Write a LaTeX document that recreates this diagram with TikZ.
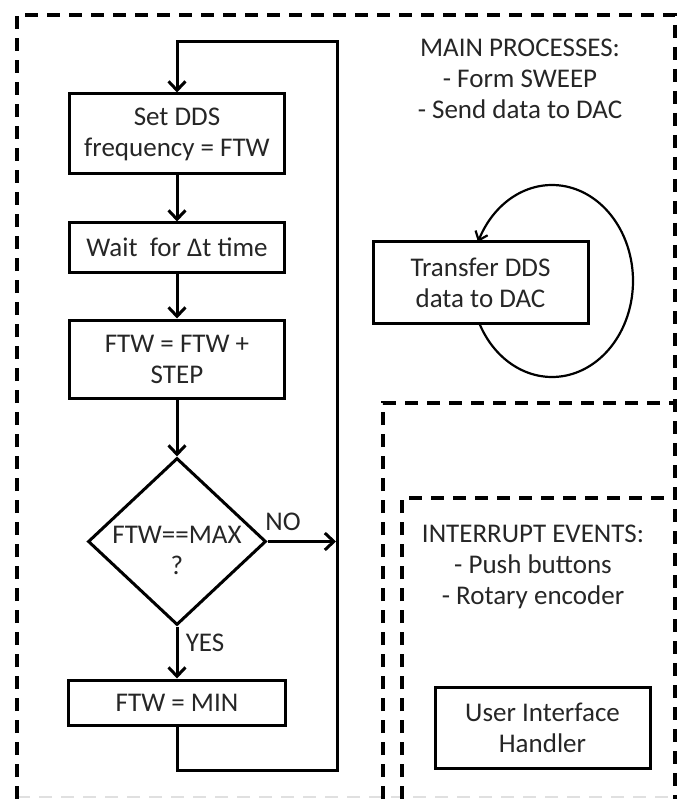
\documentclass[tikz,border=0pt]{standalone}
\usepackage{fontspec}
\setmainfont{Carlito}
\usetikzlibrary{arrows.meta,shapes.geometric}
\begin{document}
\begin{tikzpicture}[x=1pt,y=-1pt,
  txt/.style={font=\fontsize{27}{31}\selectfont, align=center, text=black!85},
  box/.style={txt, draw=black, line width=3pt, minimum width=215pt, inner sep=0pt},
  conn/.style={line width=3pt},
  arr/.style={conn, -{Straight Barb[length=9pt,width=17pt,line width=3pt]}},
  region/.style={line width=3.5pt, dash pattern=on 13pt off 9pt}
]
\useasboundingbox (0,0) rectangle (686,799);
% regions
\draw[region, black!12, line width=2pt] (17,797) -- (675,797);
\draw[region] (17,799) -- (17,15) -- (675,15) -- (675,799);
\draw[region] (383,799) -- (383,403) -- (675,403);
\draw[region] (402,799) -- (402,498) -- (675,498);
% flowchart
\node[box, minimum height=80pt] (b1) at (177,134) {Set DDS\\frequency = FTW};
\node[box, minimum height=49pt] (b2) at (177,247.5) {Wait\ \ for Δt time};
\node[box, minimum height=78pt] (b3) at (177,359) {FTW = FTW +\\STEP};
\node[draw=black, line width=3pt, diamond, minimum width=178pt, minimum height=167pt, inner sep=0pt] (dec) at (177,541.5) {};
\node[txt] (dect) at (177,550) {FTW==MAX\\?};
\node[box, minimum width=217pt, minimum height=45pt] (b4) at (177,702.5) {FTW = MIN};
\coordinate (rb) at (337,770);
\coordinate (lt) at (177,42);
\coordinate (noend) at (336,541.5);
\draw[arr] (b1.south) -- (b2.north);
\draw[arr] (b2.south) -- (b3.north);
\draw[arr] (b3.south) -- (dec.north);
\draw[arr] (dec.south) -- (b4.north);
\draw[arr] (dec.east) -- (noend);
\draw[arr] (b4.south) |- (rb) |- (lt) -- (b1.north);
\node[txt] (no) at (283,522) {NO};
\node[txt] (yes) at (205,643) {YES};
% main processes
\node[txt] (mainp) at (520,79) {MAIN PROCESSES:\\- Form SWEEP\\- Send data to DAC};
\node[box, minimum height=81pt] (tr) at (480.5,282.5) {Transfer DDS\\data to DAC};
\draw[line width=2.2pt, -{Straight Barb[length=8pt,width=13pt,line width=2.2pt]}] plot[domain=154:-156, samples=90, smooth] ({552+81*cos(\x)},{281+96*sin(\x)});
% interrupts
\node[txt] (intp) at (533,567) {INTERRUPT EVENTS:\\- Push buttons\\- Rotary encoder};
\node[box, minimum height=81pt] (ui) at (542.5,727.5) {User Interface\\Handler};
\end{tikzpicture}
\end{document}
